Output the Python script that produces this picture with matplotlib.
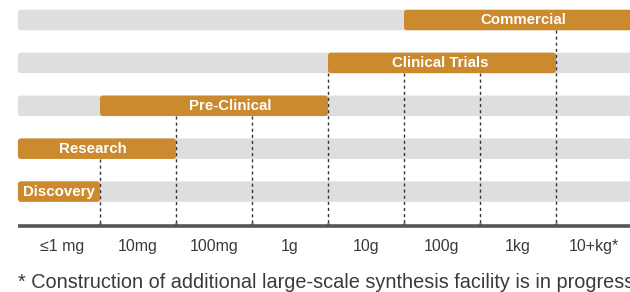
import matplotlib
matplotlib.use("Agg")
import matplotlib.pyplot as plt
from matplotlib.patches import FancyBboxPatch

# ---- data ----
scale_labels = ['≤1 mg', '10mg', '100mg', '1g', '10g', '100g', '1kg', '10+kg*']
stages = ['Commercial', 'Clinical Trials', 'Pre-Clinical', 'Research', 'Discovery']
stage_start = [5, 4, 1, 0, 0]
stage_end = [8, 7, 4, 2, 1]
boundaries = [1, 2, 3, 4, 5, 6, 7]
grid_start_row = [3, 2, 2, 1, 1, 1, 0]
footnote = '* Construction of additional large-scale synthesis facility is in progress'

# ---- style ----
ORANGE = '#CC8A2E'
GRAY = '#DEDEDE'
AXIS = '#555555'
TEXT = '#3a3a3a'
PX_X = 76.0   # pixels per category
PX_Y = 42.9   # pixels per row
row_left = -0.08
bar_h = 20.5 / PX_Y
label_dx_px = [6, -2, 16, -4, 0]

fig = plt.figure(figsize=(6.3, 2.92), dpi=100)
ax = fig.add_axes([0, 0, 1, 1])
ax.set_xlim(1 - 100 / PX_X, 1 + 530 / PX_X)
ax.set_ylim(20 / PX_Y * -1 + 292 / PX_Y, -20 / PX_Y)
ax.axis('off')

r = 3.0 / PX_X
asp = PX_X / PX_Y
right_edge = len(scale_labels) + 0.1

for i, name in enumerate(stages):
    # gray background row
    ax.add_patch(FancyBboxPatch((row_left, i - bar_h / 2), right_edge - row_left, bar_h,
                                boxstyle=f"round,pad=0,rounding_size={r}",
                                mutation_aspect=asp, fc=GRAY, ec='none', zorder=1))
    x0 = row_left if stage_start[i] == 0 else stage_start[i]
    x1 = stage_end[i] + (0.1 if stage_end[i] == len(scale_labels) else 0)
    ax.add_patch(FancyBboxPatch((x0, i - bar_h / 2), x1 - x0, bar_h,
                                boxstyle=f"round,pad=0,rounding_size={r}",
                                mutation_aspect=asp, fc=ORANGE, ec='none', zorder=3))
    cx = (x0 + min(x1, ax.get_xlim()[1])) / 2 + label_dx_px[i] / PX_X
    ax.text(cx, i + 0.01, name, ha='center', va='center', color='white',
            fontsize=10.8, fontweight='bold', family='Liberation Sans', zorder=4)

axis_y = (226.3 - 20) / PX_Y
for k, rs in zip(boundaries, grid_start_row):
    ax.plot([k, k], [rs + bar_h / 2, axis_y], ls=(0, (2.2, 2.2)), lw=1.0,
            color='#333333', zorder=2)
    ax.plot([k, k], [axis_y - 3.5 / PX_Y, axis_y], lw=2.2, color=AXIS,
            solid_capstyle='butt', zorder=5)

ax.plot([row_left, right_edge], [axis_y, axis_y], lw=2.6, color=AXIS,
        solid_capstyle='butt', zorder=5)

lab_y = (251.5 - 20) / PX_Y
for j, lab in enumerate(scale_labels):
    ax.text(j + 0.5, lab_y, lab, ha='center', va='baseline', color=TEXT,
            fontsize=11.5, family=['Liberation Sans', 'DejaVu Sans'])

ax.text(row_left, (288.5 - 20) / PX_Y, footnote, ha='left', va='baseline',
        color=TEXT, fontsize=14.3, family='Liberation Sans')

fig.savefig('out.png', dpi=100)
